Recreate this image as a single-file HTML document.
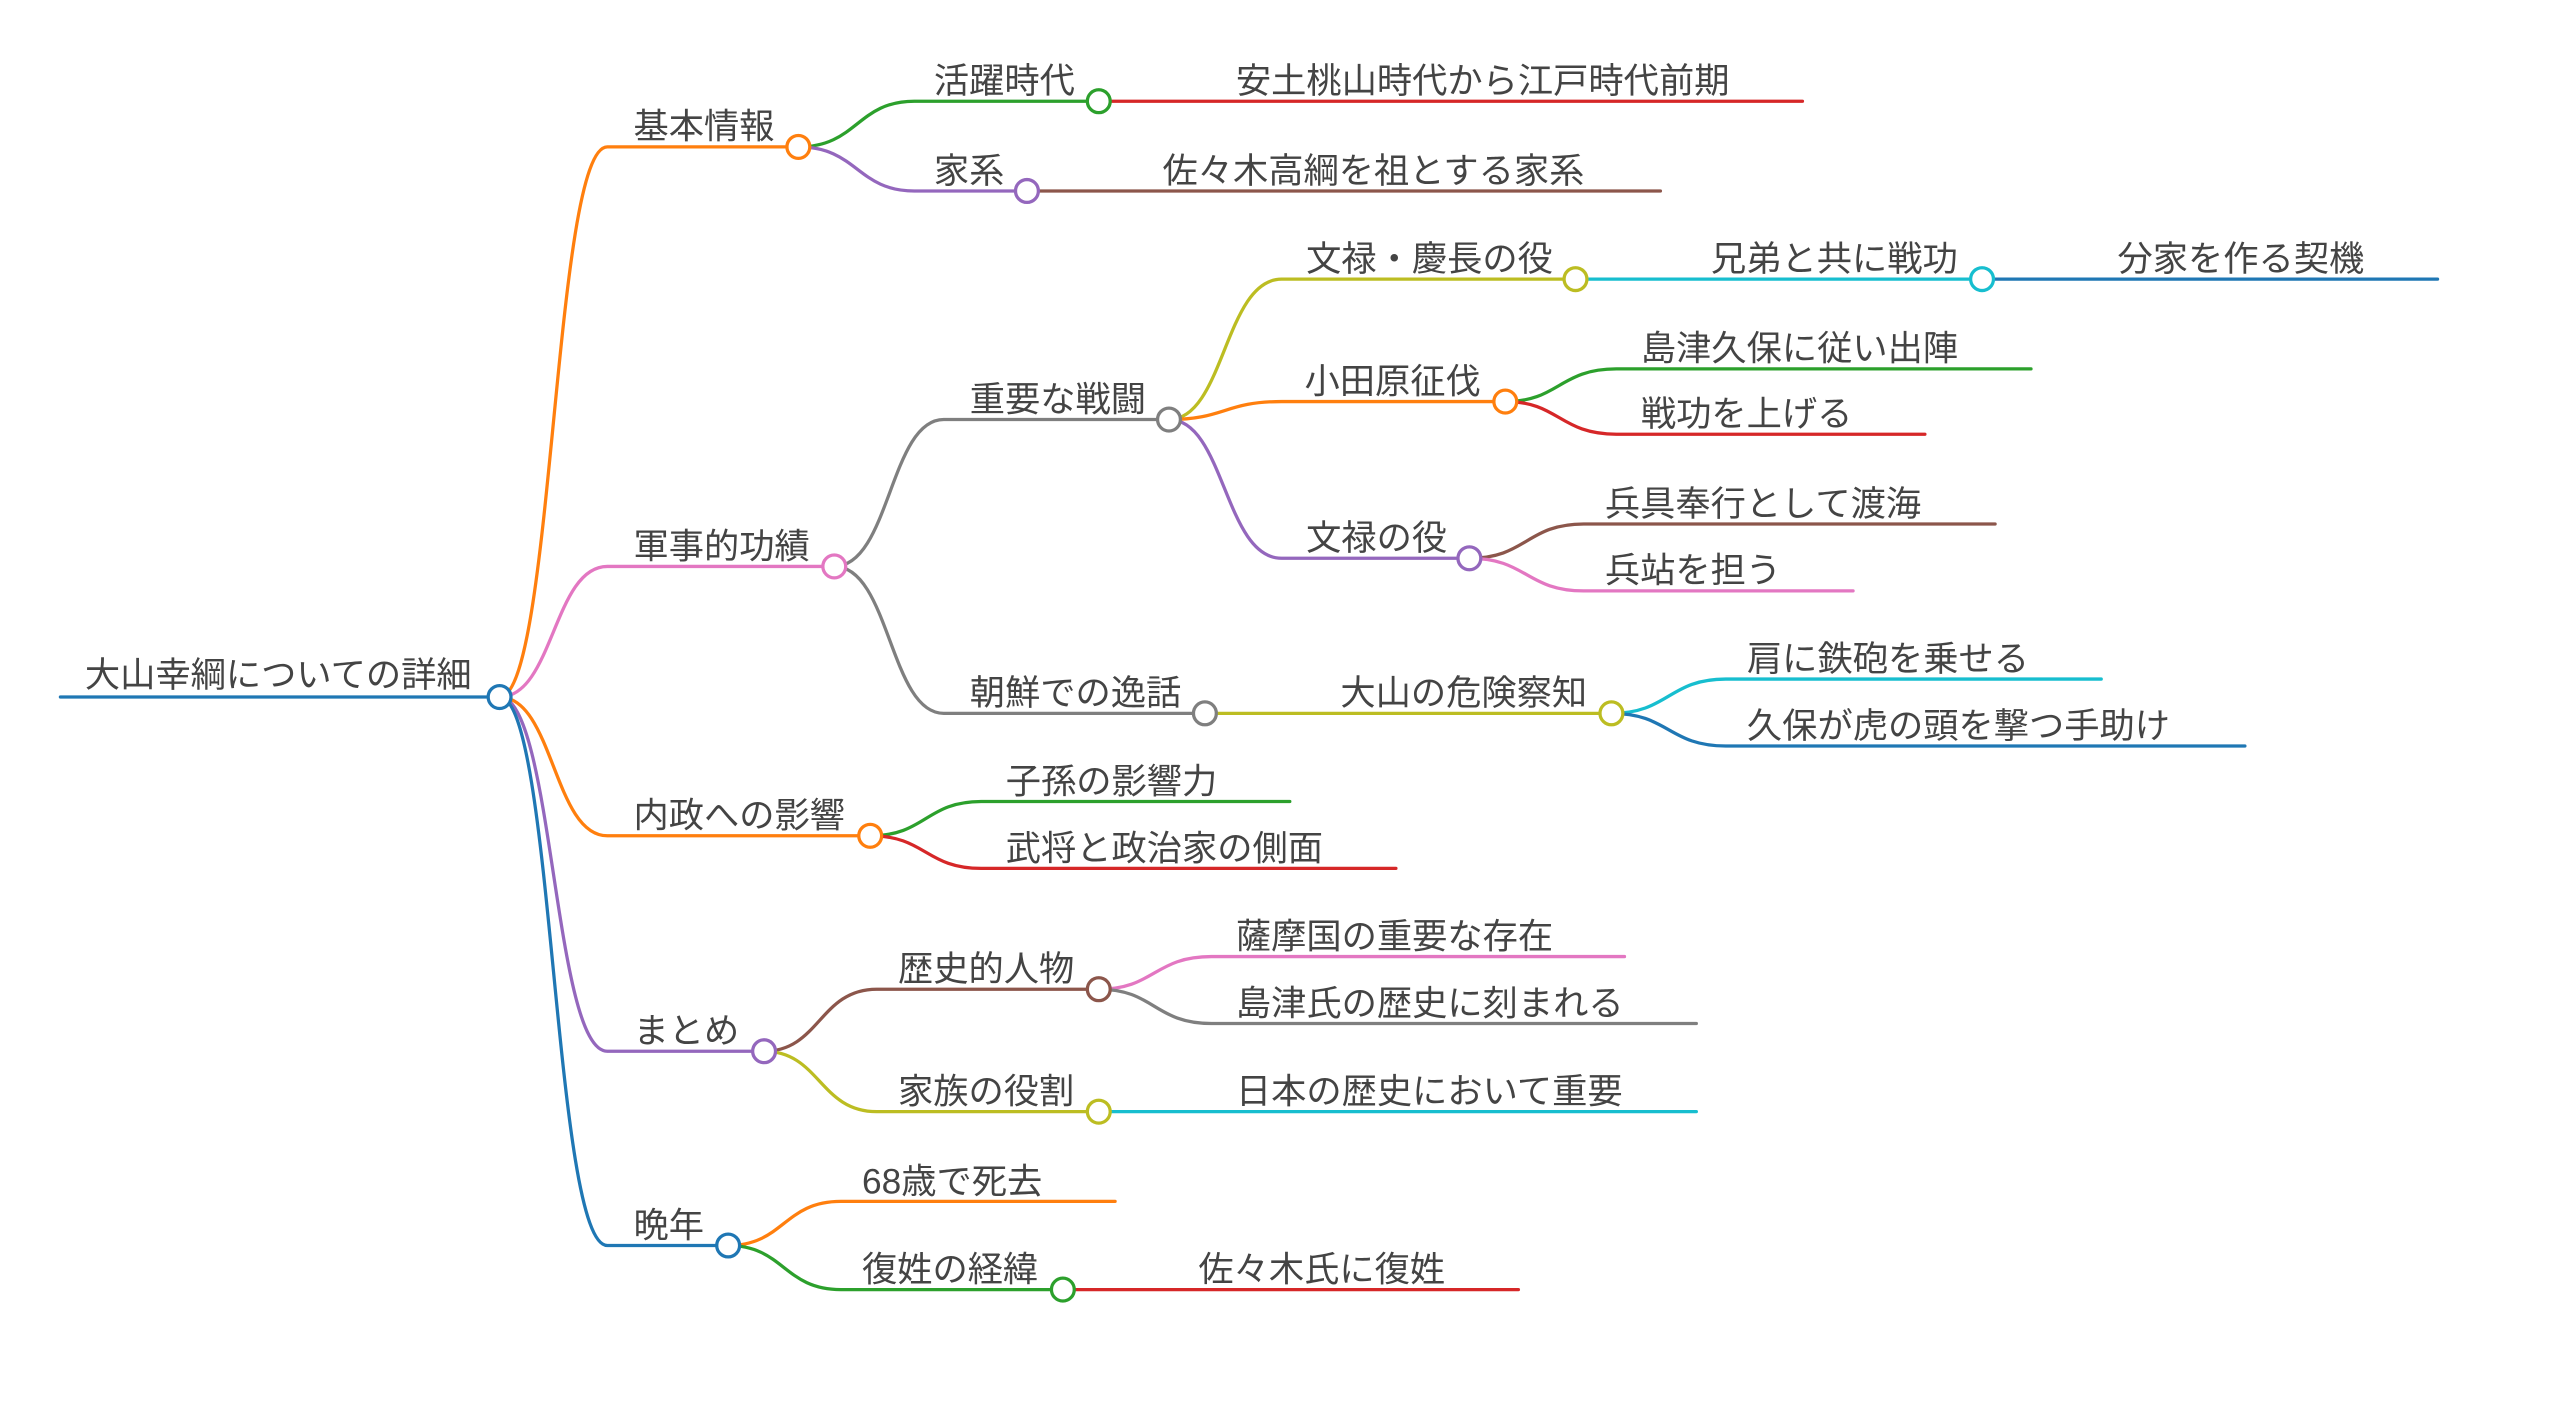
<!DOCTYPE html>
<html><head><meta charset="utf-8"><style>
html,body{margin:0;padding:0;background:#fff;}
svg{display:block}
text{font-family:"Liberation Sans","Noto Sans CJK JP",sans-serif;font-size:21.6px;fill:#444;}
path,line{fill:none;stroke-width:2;stroke-linecap:round}
circle{fill:#fff;stroke-width:2}
</style></head><body>
<svg width="2560" height="1412" viewBox="0 0 1568 865" preserveAspectRatio="none" xmlns="http://www.w3.org/2000/svg">
<path d="M37 427 H306" stroke="#1f77b4"/>
<path d="M306 427 C339 427,339 90,372 90 H489" stroke="#ff7f0e"/>
<path d="M306 427 C339 427,339 347,372 347 H511" stroke="#e377c2"/>
<path d="M306 427 C339 427,339 512,372 512 H533" stroke="#ff7f0e"/>
<path d="M306 427 C339 427,339 644,372 644 H468" stroke="#9467bd"/>
<path d="M306 427 C339 427,339 763,372 763 H446" stroke="#1f77b4"/>
<path d="M489 90 C525 90,525 62,560 62 H673" stroke="#2ca02c"/>
<path d="M489 90 C525 90,525 117,560 117 H629" stroke="#9467bd"/>
<path d="M673 62 H1104" stroke="#d62728"/>
<path d="M629 117 H1017" stroke="#8c564b"/>
<path d="M511 347 C545 347,545 257,578 257 H716" stroke="#7f7f7f"/>
<path d="M511 347 C545 347,545 437,578 437 H738" stroke="#7f7f7f"/>
<path d="M716 257 C750 257,750 171,785 171 H965" stroke="#bcbd22"/>
<path d="M716 257 C750 257,750 246,785 246 H922" stroke="#ff7f0e"/>
<path d="M716 257 C750 257,750 342,785 342 H900" stroke="#9467bd"/>
<path d="M965 171 H1214" stroke="#17becf"/>
<path d="M1214 171 H1493" stroke="#1f77b4"/>
<path d="M922 246 C955 246,955 226,990 226 H1244" stroke="#2ca02c"/>
<path d="M922 246 C955 246,955 266,990 266 H1179" stroke="#d62728"/>
<path d="M900 342 C935 342,935 321,970 321 H1222" stroke="#8c564b"/>
<path d="M900 342 C935 342,935 362,970 362 H1135" stroke="#e377c2"/>
<path d="M738 437 H987" stroke="#bcbd22"/>
<path d="M987 437 C1022 437,1022 416,1057 416 H1287" stroke="#17becf"/>
<path d="M987 437 C1022 437,1022 457,1057 457 H1375" stroke="#1f77b4"/>
<path d="M533 512 C567 512,567 491,601 491 H790" stroke="#2ca02c"/>
<path d="M533 512 C567 512,567 532,601 532 H855" stroke="#d62728"/>
<path d="M468 644 C502 644,502 606,537 606 H673" stroke="#8c564b"/>
<path d="M468 644 C502 644,502 681,537 681 H673" stroke="#bcbd22"/>
<path d="M673 606 C707 606,707 586,742 586 H995" stroke="#e377c2"/>
<path d="M673 606 C707 606,707 627,742 627 H1039" stroke="#7f7f7f"/>
<path d="M673 681 H1039" stroke="#17becf"/>
<path d="M446 763 C480 763,480 736,515 736 H683" stroke="#ff7f0e"/>
<path d="M446 763 C480 763,480 790,515 790 H651" stroke="#2ca02c"/>
<path d="M651 790 H930" stroke="#d62728"/>
<circle cx="306" cy="427" r="7" stroke="#1f77b4"/>
<circle cx="489" cy="90" r="7" stroke="#ff7f0e"/>
<circle cx="511" cy="347" r="7" stroke="#e377c2"/>
<circle cx="533" cy="512" r="7" stroke="#ff7f0e"/>
<circle cx="468" cy="644" r="7" stroke="#9467bd"/>
<circle cx="446" cy="763" r="7" stroke="#1f77b4"/>
<circle cx="673" cy="62" r="7" stroke="#2ca02c"/>
<circle cx="629" cy="117" r="7" stroke="#9467bd"/>
<circle cx="716" cy="257" r="7" stroke="#7f7f7f"/>
<circle cx="738" cy="437" r="7" stroke="#7f7f7f"/>
<circle cx="965" cy="171" r="7" stroke="#bcbd22"/>
<circle cx="1214" cy="171" r="7" stroke="#17becf"/>
<circle cx="922" cy="246" r="7" stroke="#ff7f0e"/>
<circle cx="900" cy="342" r="7" stroke="#9467bd"/>
<circle cx="987" cy="437" r="7" stroke="#bcbd22"/>
<circle cx="673" cy="606" r="7" stroke="#8c564b"/>
<circle cx="673" cy="681" r="7" stroke="#bcbd22"/>
<circle cx="651" cy="790" r="7" stroke="#2ca02c"/>
<text x="52" y="421">大山幸綱についての詳細</text>
<text x="388" y="85">基本情報</text>
<text x="388" y="342">軍事的功績</text>
<text x="388" y="507">内政への影響</text>
<text x="388" y="639">まとめ</text>
<text x="388" y="758">晩年</text>
<text x="572" y="57">活躍時代</text>
<text x="757" y="57">安土桃山時代から江戸時代前期</text>
<text x="572" y="112">家系</text>
<text x="712" y="112">佐々木高綱を祖とする家系</text>
<text x="594" y="252">重要な戦闘</text>
<text x="594" y="432">朝鮮での逸話</text>
<text x="800" y="166">文禄・慶長の役</text>
<text x="1048" y="166">兄弟と共に戦功</text>
<text x="1297" y="166">分家を作る契機</text>
<text x="799" y="241">小田原征伐</text>
<text x="1005" y="221">島津久保に従い出陣</text>
<text x="1005" y="261">戦功を上げる</text>
<text x="800" y="337">文禄の役</text>
<text x="983" y="316">兵具奉行として渡海</text>
<text x="983" y="357">兵站を担う</text>
<text x="821" y="432">大山の危険察知</text>
<text x="1070" y="411">肩に鉄砲を乗せる</text>
<text x="1070" y="452">久保が虎の頭を撃つ手助け</text>
<text x="616" y="486">子孫の影響力</text>
<text x="616" y="527">武将と政治家の側面</text>
<text x="550" y="601">歴史的人物</text>
<text x="550" y="676">家族の役割</text>
<text x="757" y="581">薩摩国の重要な存在</text>
<text x="757" y="622">島津氏の歴史に刻まれる</text>
<text x="757" y="676">日本の歴史において重要</text>
<text x="528" y="731">68歳で死去</text>
<text x="528" y="785">復姓の経緯</text>
<text x="734" y="785">佐々木氏に復姓</text>
</svg>
</body></html>
